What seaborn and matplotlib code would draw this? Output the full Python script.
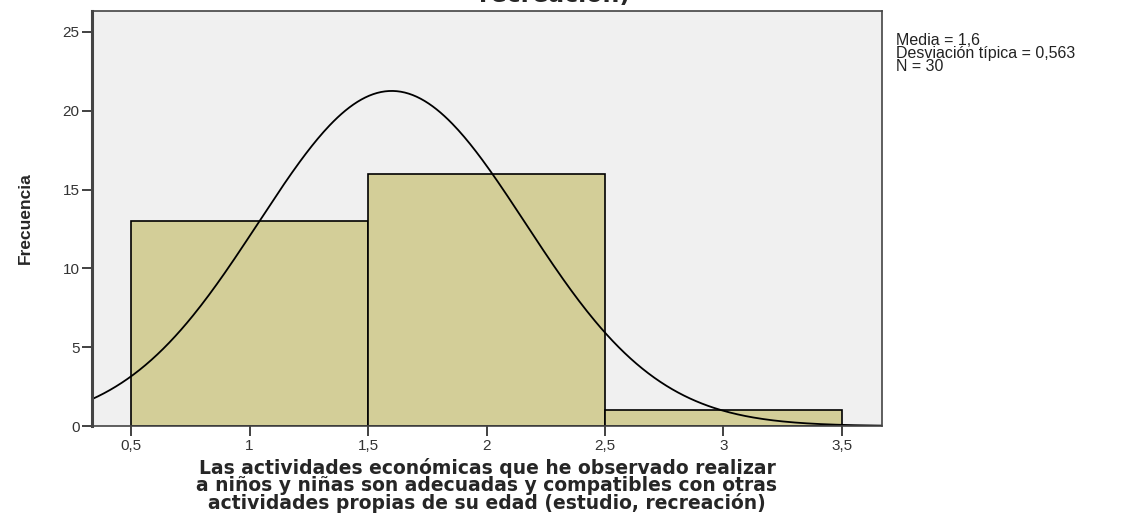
import numpy as np
import pandas as pd
import seaborn as sns
import matplotlib.pyplot as plt

# data: response values and their frequencies
valores = [1, 2, 3]
frecuencias = [13, 16, 1]
bordes = [0.5, 1.5, 2.5, 3.5]
media = 1.6
desv = 0.563
n = 30

xticks = [0.5, 1, 1.5, 2, 2.5, 3, 3.5]
xtick_labels = ["0,5", "1", "1,5", "2", "2,5", "3", "3,5"]
yticks = [0, 5, 10, 15, 20, 25]

sns.set_style("white")
plt.rcParams['font.family'] = ['Liberation Sans', 'DejaVu Sans']

df = pd.DataFrame({"valor": valores, "frecuencia": frecuencias})

fig = plt.figure(figsize=(11.27, 5.15), dpi=100)
ax = fig.add_axes([92 / 1127, 1 - 426 / 515, (882 - 92) / 1127, (426 - 11) / 515])
ax.set_facecolor("#F0F0F0")

sns.histplot(data=df, x="valor", weights="frecuencia", bins=bordes,
             color="#D3CE98", alpha=1, edgecolor="black", linewidth=1.2, ax=ax)

xmin, xmax = 0.335, 3.669
xs = np.linspace(xmin, xmax, 400)
ys = n * 1.0 / (desv * np.sqrt(2 * np.pi)) * np.exp(-0.5 * ((xs - media) / desv) ** 2)
sns.lineplot(x=xs, y=ys, color="black", linewidth=1.3, ax=ax)

ax.set_xlim(xmin, xmax)
ax.set_ylim(0, 26.33)
ax.set_xticks(xticks)
ax.set_xticklabels(xtick_labels)
ax.set_yticks(yticks)
ax.tick_params(axis="both", direction="out", length=7, width=1.3, color="#333333",
               labelsize=11, labelcolor="#333333", pad=2, bottom=True, left=True)

for side, sp in ax.spines.items():
    sp.set_visible(True)
    sp.set_color("#444444")
    sp.set_linewidth(1.2)
ax.spines["left"].set_linewidth(2.2)

ax.set_ylabel("Frecuencia", fontsize=12.5, fontweight="bold", labelpad=21)
ax.set_xlabel("Las actividades económicas que he observado realizar\n"
              "a niños y niñas son adecuadas y compatibles con otras\n"
              "actividades propias de su edad (estudio, recreación)",
              fontsize=13.5, fontweight="bold", family=["DejaVu Sans"],
              linespacing=0.86, labelpad=4)

# clipped title at the top
fig.text(555 / 1127, 1 - 2 / 515, "recreación)", ha="center", va="baseline",
         fontsize=17, fontweight="bold", family=["DejaVu Sans"])

fig.text(896 / 1127, 1 - 33 / 515,
         "Media = 1,6\nDesviación típica = 0,563\nN = 30",
         ha="left", va="top", fontsize=11.5, linespacing=0.85, color="#222222")

fig.savefig("out.png", dpi=100)
